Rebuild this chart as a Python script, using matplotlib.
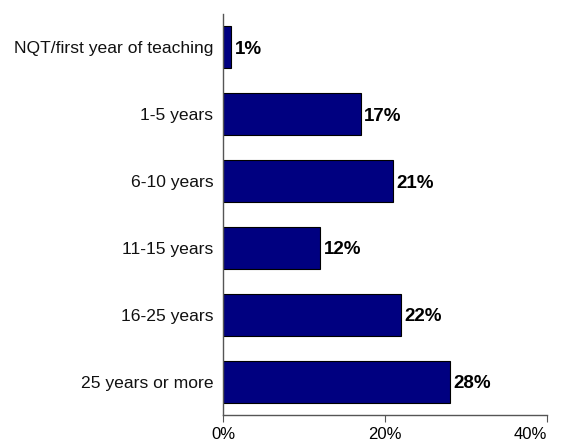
import matplotlib as mpl
mpl.use('Agg')
import matplotlib.pyplot as plt
from matplotlib.ticker import FuncFormatter

categories = ['NQT/first year of teaching', '1-5 years', '6-10 years',
              '11-15 years', '16-25 years', '25 years or more']
values = [1, 17, 21, 12, 22, 28]

plt.rcParams['font.family'] = ['Liberation Sans', 'DejaVu Sans']

fig = plt.figure(figsize=(5.63, 4.47), dpi=100)
ax = fig.add_axes([0.396, 0.0716, 0.5755, 0.8971])

pos = list(range(len(categories)))
ax.barh(pos, values, height=0.63, color='#000080', edgecolor='#000000', linewidth=0.8)
for p, v in zip(pos, values):
    ax.text(v + 0.45, p + 0.03, '%d%%' % v, va='center', ha='left',
            fontsize=13.5, fontweight='bold', color='black')

ax.set_ylim(5.5, -0.5)
ax.set_xlim(0, 40)
ax.set_yticks(pos)
ax.set_yticklabels(categories, fontsize=12.6, color='#111111')
ax.set_xticks([0, 20, 40])
ax.xaxis.set_major_formatter(FuncFormatter(lambda x, _: '%d%%' % x))
ax.tick_params(axis='x', labelsize=12, length=5, pad=4, color='#555555')
ax.tick_params(axis='y', length=0, pad=7)
# keep the right-hand 40% inside the figure
ax.get_xticklabels()[-1].set_horizontalalignment('right')
ax.get_xticklabels()[-1].set_x(40)

for s in ['top', 'right']:
    ax.spines[s].set_visible(False)
for s in ['left', 'bottom']:
    ax.spines[s].set_color('#555555')
    ax.spines[s].set_linewidth(1)

plt.savefig('out.png', dpi=100)
